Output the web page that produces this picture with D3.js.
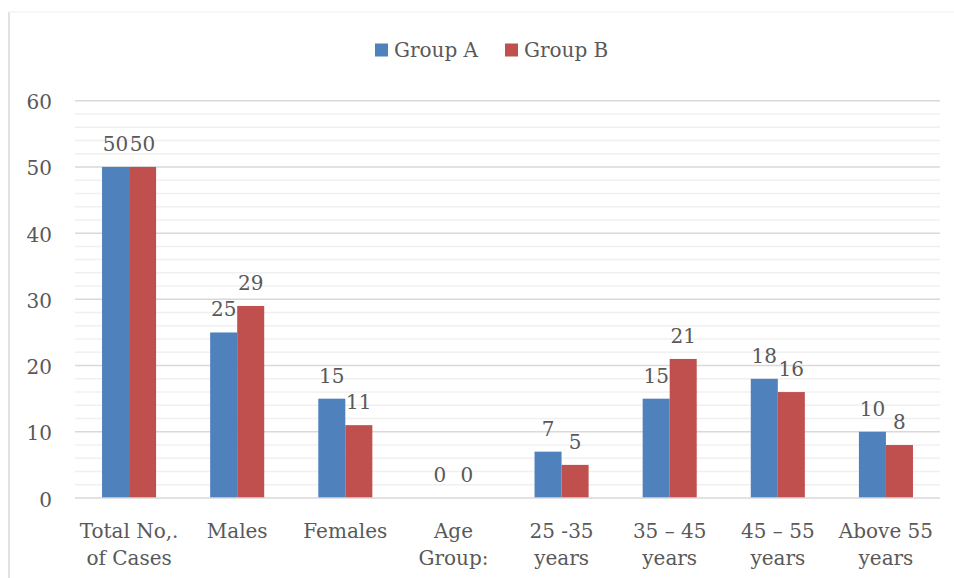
<!DOCTYPE html>
<html>
<head>
<meta charset="utf-8">
<script src="https://cdn.jsdelivr.net/npm/d3@7"></script>
<style>
  html, body { margin: 0; padding: 0; background: #fff; }
  svg { display: block; }
  text { font-family: "DejaVu Serif", serif; fill: #595959; }
</style>
</head>
<body>
<svg id="chart" width="954" height="578"></svg>
<script>
// Case counts by category for the two study groups
const categories = [
  ["Total No,.", "of Cases"],
  ["Males"],
  ["Females"],
  ["Age", "Group:"],
  ["25 -35", "years"],
  ["35 – 45", "years"],
  ["45 – 55", "years"],
  ["Above 55", "years"]
];
const seriesNames = ["Group A", "Group B"];
const groupA = [50, 25, 15, 0, 7, 15, 18, 10];
const groupB = [50, 29, 11, 0, 5, 21, 16, 8];
const yTicks = [0, 10, 20, 30, 40, 50, 60];
const yMinorTicks = [2, 4, 6, 8, 12, 14, 16, 18, 22, 24, 26, 28, 32, 34, 36, 38, 42, 44, 46, 48, 52, 54, 56, 58];
const colors = ["#4F81BD", "#C0504D"];

const svg = d3.select("#chart");
const plot = { left: 75, right: 940, top: 100.7, bottom: 498 };

// Chart frame
svg.append("line").attr("x1", 9).attr("x2", 9).attr("y1", 12).attr("y2", 578)
  .attr("stroke", "#d9d9d9").attr("stroke-width", 1.5);
svg.append("line").attr("x1", 9).attr("x2", 954).attr("y1", 12).attr("y2", 12)
  .attr("stroke", "#efefef").attr("stroke-width", 1);

const x = d3.scaleBand().domain(d3.range(categories.length))
  .range([plot.left, plot.right]).paddingInner(0).paddingOuter(0);
// Two bars per category, together filling the middle half of each band
const x1 = d3.scaleBand().domain([0, 1]).range([0, x.bandwidth()])
  .paddingInner(0).paddingOuter(1);
const y = d3.scaleLinear().domain([0, 60]).range([plot.bottom, plot.top]);

// Minor gridlines
svg.append("g").selectAll("line").data(yMinorTicks).join("line")
  .attr("x1", plot.left).attr("x2", plot.right)
  .attr("y1", d => y(d)).attr("y2", d => y(d))
  .attr("stroke", "#f0f0f0").attr("stroke-width", 1.5);

// Major gridlines
svg.append("g").selectAll("line").data(yTicks.filter(d => d > 0)).join("line")
  .attr("x1", plot.left).attr("x2", plot.right)
  .attr("y1", d => y(d)).attr("y2", d => y(d))
  .attr("stroke", "#d9d9d9").attr("stroke-width", 1.5);

// Y axis labels
const yAxis = d3.axisLeft(y).tickValues(yTicks).tickSize(0).tickPadding(0);
const yg = svg.append("g").attr("transform", `translate(52,0)`).call(yAxis);
yg.select(".domain").remove();
yg.selectAll("text").attr("font-size", 20).attr("font-family", "DejaVu Serif")
  .attr("fill", "#595959").attr("dy", "0.4em");

// Bars
const series = [groupA, groupB];
series.forEach((vals, s) => {
  svg.append("g").selectAll("rect").data(vals).join("rect")
    .attr("x", (d, i) => x(i) + x1(s))
    .attr("y", d => y(d))
    .attr("width", x1.bandwidth())
    .attr("height", d => y(0) - y(d))
    .attr("fill", colors[s]);
});

// Baseline
svg.append("line").attr("x1", plot.left).attr("x2", plot.right)
  .attr("y1", y(0)).attr("y2", y(0))
  .attr("stroke", "#d9d9d9").attr("stroke-width", 1.5);

// Value labels
series.forEach((vals, s) => {
  svg.append("g").selectAll("text").data(vals).join("text")
    .attr("x", (d, i) => x(i) + x1(s) + x1.bandwidth() / 2)
    .attr("y", d => y(d) - 16)
    .attr("text-anchor", "middle")
    .attr("font-size", 20)
    .text(d => d);
});

// Category labels
const xAxis = d3.axisBottom(x).tickSize(0).tickFormat(() => "");
const xg = svg.append("g").attr("transform", `translate(0,${plot.bottom})`).call(xAxis);
xg.select(".domain").remove();
xg.selectAll(".tick").each(function(d) {
  const t = d3.select(this).append("text")
    .attr("text-anchor", "middle").attr("font-size", 20)
    .attr("fill", "#595959").attr("font-family", "DejaVu Serif");
  categories[d].forEach((line, k) => {
    t.append("tspan").attr("x", 0).attr("y", 40 + k * 27).text(line);
  });
});

// Legend
const legend = svg.append("g");
const legendX = [375, 505];
seriesNames.forEach((name, s) => {
  legend.append("rect").attr("x", legendX[s]).attr("y", 43.5)
    .attr("width", 13).attr("height", 13).attr("fill", colors[s]);
  legend.append("text").attr("x", legendX[s] + 19).attr("y", 57)
    .attr("font-size", 20).text(name);
});
</script>
</body>
</html>
